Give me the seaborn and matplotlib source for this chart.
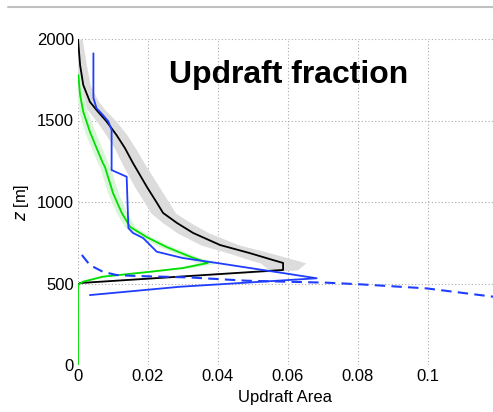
import numpy as np
import pandas as pd
import matplotlib
matplotlib.use("Agg")
import matplotlib.pyplot as plt
import seaborn as sns
from matplotlib.lines import Line2D

sns.set_style("white")
plt.rcParams['font.family'] = ['Liberation Sans', 'DejaVu Sans']
plt.rcParams['text.color'] = 'black'
plt.rcParams['axes.labelcolor'] = 'black'
plt.rcParams['xtick.labelcolor'] = 'black'
plt.rcParams['ytick.labelcolor'] = 'black'

# ---- data ----
black_x = [0.0, 0.0006, 0.0015, 0.0034, 0.0053, 0.0082, 0.0110, 0.0134, 0.0157, 0.0197,
           0.0226, 0.0243, 0.0283, 0.0329, 0.0406, 0.0490, 0.0557, 0.0586, 0.0586, 0.0006, 0.0]
black_z = [2000, 1840, 1718, 1615, 1564, 1493, 1411, 1331, 1239, 1092,
           993, 933, 871, 810, 736, 687, 644, 626, 583, 503, 491]
band_w = [0.0012, 0.0018, 0.002, 0.0025, 0.0025, 0.0028, 0.003, 0.003, 0.0032, 0.0035,
          0.0035, 0.0035, 0.004, 0.0045, 0.0055, 0.006, 0.0065, 0.0065, 0.004, 0.001, 0.0]

green_x = [0.0001, 0.0006, 0.0015, 0.0034, 0.0053, 0.0071, 0.0077, 0.0100, 0.0125, 0.0149,
           0.0196, 0.0253, 0.0320, 0.0371, 0.0300, 0.0206, 0.0071, 0.0014, 0.0, 0.0]
green_z = [1779, 1656, 1554, 1431, 1331, 1239, 1215, 1055, 933, 847,
           785, 724, 665, 626, 595, 572, 542, 511, 491, 0]
green_w = [0.0005, 0.001, 0.0012, 0.0015, 0.0015, 0.0015, 0.0015, 0.0015, 0.0015, 0.0015,
           0.0015, 0.0018, 0.002, 0.003, 0.002, 0.0015, 0.001, 0.0005, 0.0, 0.0]

blue_x = [0.0044, 0.0044, 0.0053, 0.0071, 0.0087, 0.0096, 0.0096, 0.0139, 0.0144, 0.0157,
          0.0186, 0.0206, 0.0225, 0.0300, 0.0397, 0.0491, 0.0586, 0.0682, 0.0291, 0.0034]
blue_z = [1912, 1638, 1575, 1534, 1493, 1442, 1196, 1155, 840, 810,
          779, 736, 695, 656, 626, 595, 564, 532, 480, 429]

dash_x = [0.0011, 0.0034, 0.0071, 0.0110, 0.0168, 0.0320, 0.0482, 0.0711, 0.0806, 0.0996, 0.1186]
dash_z = [675, 613, 572, 552, 546, 537, 517, 505, 495, 470, 419]

x_ticks = [0, 0.02, 0.04, 0.06, 0.08, 0.1]
x_tick_labels = ["0", "0.02", "0.04", "0.06", "0.08", "0.1"]
z_ticks = [0, 500, 1000, 1500, 2000]
z_tick_labels = ["0", "500", "1000", "1500", "2000"]

# ---- figure ----
fig = plt.figure(figsize=(4.93, 4.12), dpi=100)
ax = fig.add_axes([78/493, 47/412, 415/493, 326/412])

bx = np.array(black_x); bw = np.array(band_w)
ax.fill_betweenx(black_z, bx - bw, bx + bw, color="#dcdcdc", lw=0, zorder=1)
gx = np.array(green_x); gw = np.array(green_w)
ax.fill_betweenx(green_z, gx - gw, gx + gw, color="#d8f5d8", lw=0, zorder=1)

sns.lineplot(x=black_x, y=black_z, sort=False, estimator=None, color="black", lw=1.3, ax=ax, zorder=3)
sns.lineplot(x=green_x, y=green_z, sort=False, estimator=None, color="#00e000", lw=1.3, ax=ax, zorder=4)
sns.lineplot(x=blue_x, y=blue_z, sort=False, estimator=None, color="#1f3dff", lw=1.3, ax=ax, zorder=5)
sns.lineplot(x=dash_x, y=dash_z, sort=False, estimator=None, color="#1f3dff", lw=1.5, ax=ax, zorder=5,
             linestyle=(0, (5, 3)))

ax.set_xlim(0, 415/3500)
ax.set_ylim(0, 2000)
ax.set_xticks(x_ticks)
ax.set_xticklabels(x_tick_labels)
ax.set_yticks(z_ticks)
ax.set_yticklabels(z_tick_labels)
ax.tick_params(axis='both', labelsize=12, direction='in', length=3, color='#888888',
               labelcolor='black', pad=3)
ax.grid(True, linestyle=(0, (1, 2)), color='#aaaaaa', lw=0.8)
for s in ax.spines.values():
    s.set_visible(False)

ax.set_xlabel("Updraft Area", fontsize=12, labelpad=4, color='black')
ax.set_ylabel(r"$z$ [m]", fontsize=12, labelpad=4, color='black')

ax.text(0.0603, 1779, "Updraft fraction", fontsize=23, fontweight='bold', color='black',
        ha='center', va='center', zorder=6)

fig.add_artist(Line2D([8/493, 1.0], [1 - 7/412, 1 - 7/412], color='#c0c0c0', lw=1.5,
                      transform=fig.transFigure))

fig.savefig("out.png", dpi=100)
